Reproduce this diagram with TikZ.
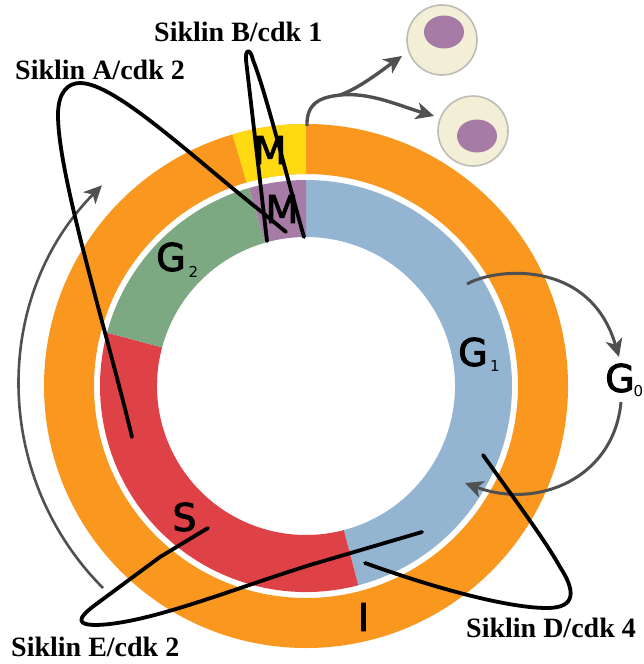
\documentclass[tikz,border=0pt]{standalone}
\usepackage{fontspec}
\usetikzlibrary{arrows.meta}
\newfontfamily\labelfont{Liberation Serif}[BoldFont={Liberation Serif Bold}]
\newfontfamily\phasefont{DejaVu Sans}[FakeBold=2.6]
\newfontfamily\subfont{DejaVu Sans}
\definecolor{ringorange}{HTML}{F9971E}
\definecolor{ringyellow}{HTML}{FFD912}
\definecolor{phasepurple}{HTML}{A67CA6}
\definecolor{phaseblue}{HTML}{94B5D2}
\definecolor{phasegreen}{HTML}{7CA882}
\definecolor{phasered}{HTML}{DE4146}
\definecolor{arrowgrey}{HTML}{505050}
\definecolor{cellfill}{HTML}{F3EED6}
\definecolor{cellrim}{HTML}{BDBDB8}
% annular sector: colour, start angle, end angle, inner radius, outer radius
\newcommand{\ringpart}[5]{%
  \fill[#1] ([shift={(#2:#5)}]hub) arc[start angle=#2,end angle=#3,radius=#5]
    -- ([shift={(#3:#4)}]hub) arc[start angle=#3,end angle=#2,radius=#4] -- cycle;}
\tikzset{
  cyclin/.style={font=\labelfont\bfseries\fontsize{28}{30}\selectfont,inner sep=0pt,anchor=west},
  phase/.style={font=\phasefont\fontsize{38}{40}\selectfont,text=black,inner sep=0pt},
  phasesub/.style={font=\subfont\fontsize{15}{17}\selectfont,text=black,inner sep=0pt},
  bond/.style={draw=black,line width=3.8pt,line cap=round,line join=round},
  flow/.style={draw=arrowgrey,line width=3.4pt,-{Stealth[length=18pt,width=17pt,inset=5pt]}},
  flowthin/.style={draw=arrowgrey,line width=3pt,-{Stealth[length=18pt,width=17pt,inset=5pt]}},
  cell/.style={fill=cellfill,draw=cellrim,line width=1.6pt},
  nucleus/.style={fill=phasepurple},
}
\begin{document}
\begin{tikzpicture}[x=1pt,y=-1pt]
\useasboundingbox (0,0) rectangle (644,664);
\fill[white] (0,0) rectangle (644,664);
\coordinate (hub) at (306,386);

% outer ring: interphase and mitosis
\ringpart{ringorange}{-90}{-450}{212}{262}
\ringpart{ringyellow}{-90}{-106.3}{212}{262}

% inner ring: the four phases
\ringpart{phaseblue}{-90}{75.3}{149}{206}
\ringpart{phasered}{75.3}{195}{149}{206}
\ringpart{phasegreen}{195}{254}{149}{206}
\ringpart{phasepurple}{254}{270}{149}{206}

% daughter cells
\draw[cell] (442,40) circle[radius=35];
\fill[nucleus] (444,32) ellipse[x radius=20,y radius=16.5];
\draw[cell] (473,131) circle[radius=35];
\fill[nucleus] (477,136) ellipse[x radius=20,y radius=16.5];

% grey flow arrows
\coordinate (exitstart) at (307,126);
\coordinate (exitfork) at (340,95);
\coordinate (cellA) at (402,56);
\coordinate (cellB) at (434,116);
\draw[flow] (exitstart) .. controls (306,100) and (325,97) .. (exitfork)
  .. controls (360,88) and (385,68) .. (cellA);
\draw[flow] (exitfork) .. controls (370,92) and (400,106) .. (cellB);
\coordinate (bigstart) at (103,588);
\coordinate (bigend) at (103,186);
\draw[flowthin,line width=2.6pt] (bigstart) arc[start angle=135.1,end angle=224.6,radius=286];
\coordinate (gzeroin) at (467,284);
\coordinate (gzerotip) at (619,357);
\coordinate (gzeroout) at (621,402);
\coordinate (goneback) at (465,483);
\draw[flowthin] (gzeroin) .. controls (495,268) and (590,258) .. (gzerotip);
\draw[flowthin] (gzeroout) .. controls (614,478) and (538,510) .. (goneback);

% phase letters
\node[phase] (mouter) at (270,150) {M};
\node[phase] (minner) at (282,209) {M};
\node[phase] (gtwo) at (171,257) {G};
\node[phasesub] (gtwosub) at (193.5,272) {2};
\node[phase] (gone) at (473,352) {G};
\node[phasesub] (gonesub) at (495,366) {1};
\node[phase] (gzero) at (620,378) {G};
\node[phasesub] (gzerosub) at (638.5,391) {0};
\node[phase] (sphase) at (184.5,517) {S};
\node[phase] (iphase) at (363.5,617) {I};

% cyclin labels
\node[cyclin] (cycA) at (15,70) {Siklin A/cdk 2};
\node[cyclin] (cycB) at (154,32) {Siklin B/cdk 1};
\node[cyclin] (cycD) at (466,628) {Siklin D/cdk 4};
\node[cyclin] (cycE) at (11,647) {Siklin E/cdk 2};

% cyclin loops
\coordinate (aStart) at (132,437);
\coordinate (aEnd) at (286,232);
\coordinate (bStart) at (267,241);
\coordinate (bEnd) at (304,237);
\coordinate (dStart) at (483,455);
\coordinate (dEnd) at (365,563);
\coordinate (eStart) at (208,528);
\coordinate (eEnd) at (422,532);
\draw[bond] (aStart) .. controls (105,325) and (58,175) .. (58,115)
  .. controls (58,92) and (68,83) .. (80,83)
  .. controls (115,83) and (190,155) .. (263,213) -- (aEnd);
\draw[bond] (bStart) -- (246,60) .. controls (245,50) and (250,47) .. (253,60)
  .. controls (265,90) and (285,170) .. (bEnd);
\draw[bond] (dStart) .. controls (515,500) and (545,540) .. (560,567)
  .. controls (575,590) and (577,608) .. (547,608)
  .. controls (510,608) and (440,590) .. (dEnd);
\draw[bond] (eStart) -- (160,557) -- (95,605) .. controls (75,620) and (78,625) .. (97,625)
  .. controls (150,623) and (230,590) .. (310,565) -- (eEnd);
\end{tikzpicture}
\end{document}
